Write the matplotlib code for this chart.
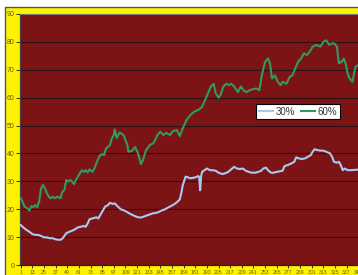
import matplotlib
matplotlib.use("Agg")
import matplotlib.pyplot as plt
from matplotlib.patches import Rectangle

# ---- data (category index, value) ----
green_idx = [1, 3, 5, 8, 10, 12, 14, 16, 18, 20, 22, 24, 26, 28, 30, 32, 34, 36, 39, 42,
             44, 46, 48, 50, 52, 54, 56, 58, 60, 62, 64, 66, 68, 70, 72, 75, 77, 79, 81, 83,
             85, 87, 89, 91, 93, 95, 97, 98, 100, 103, 107, 111, 112, 116, 119, 122, 125, 127, 130, 134,
             138, 142, 145, 148, 151, 155, 158, 162, 165, 168, 172, 176, 180, 184, 188, 191, 194, 197, 200, 202,
             205, 207, 210, 213, 216, 218, 221, 225, 228, 231, 234, 237, 240, 244, 247, 250, 253, 256, 258, 260,
             263, 266, 269, 271, 275, 278, 281, 284, 287, 290, 293, 296, 299, 302, 306, 310, 313, 316, 319, 322,
             324, 327, 329, 332, 334, 336, 338, 340, 343, 346, 349]
green_val = [23.9, 22.7, 20.9, 20.3, 19.5, 21.1, 20.7, 21.5, 20.7, 22.7, 27.5, 28.7, 27.5, 25.7, 24.5, 23.9, 24.5, 23.9, 24.5, 23.9,
             26.3, 26.9, 30.5, 29.9, 30.5, 29.9, 29.0, 30.5, 31.7, 32.9, 34.0, 33.4, 34.0, 33.2, 34.3, 33.4, 34.6, 36.4, 38.2, 39.4,
             39.8, 39.4, 41.8, 42.4, 43.0, 45.4, 46.6, 48.6, 45.5, 47.5, 46.6, 43.0, 40.6, 41.0, 42.3, 40.0, 36.2, 37.6, 41.0, 43.0,
             43.7, 46.6, 47.8, 46.6, 47.4, 46.6, 48.0, 48.4, 46.2, 49.0, 52.0, 53.8, 55.0, 55.6, 56.7, 59.0, 61.5, 64.0, 64.9, 61.6,
             60.0, 61.0, 64.0, 65.0, 64.5, 65.0, 64.0, 62.0, 64.0, 62.5, 62.0, 62.7, 63.0, 63.3, 62.7, 68.7, 72.9, 74.0, 72.3, 66.9,
             68.0, 65.7, 64.5, 65.7, 65.0, 67.3, 68.0, 70.5, 72.9, 74.0, 75.9, 75.3, 76.5, 78.3, 78.9, 78.3, 80.0, 80.6, 78.9, 79.5,
             79.5, 78.3, 72.3, 72.9, 74.0, 72.3, 68.7, 66.9, 65.7, 71.0, 71.7]

blue_idx = [1, 3, 6, 10, 13, 16, 19, 22, 25, 28, 31, 34, 37, 41, 43, 45, 48, 51, 54, 57,
            60, 63, 66, 68, 70, 72, 75, 79, 81, 83, 85, 88, 91, 93, 96, 98, 101, 104, 108, 113,
            117, 121, 125, 129, 133, 137, 142, 146, 150, 154, 158, 162, 165, 167, 168, 171, 176, 181, 184, 185,
            186, 187, 188, 193, 196, 199, 202, 205, 209, 212, 215, 218, 221, 224, 227, 230, 233, 236, 239, 243,
            246, 249, 251, 254, 256, 259, 262, 265, 268, 271, 273, 276, 280, 283, 285, 288, 291, 294, 297, 300,
            302, 304, 307, 310, 313, 316, 320, 322, 324, 327, 329, 331, 333, 335, 338, 341, 349]
blue_val = [14.3, 13.7, 12.8, 11.9, 11.1, 10.8, 10.8, 10.4, 9.9, 9.9, 9.6, 9.6, 9.2, 9.0, 9.2, 9.9, 11.4, 11.9, 12.3, 12.8,
            13.5, 13.7, 14.0, 13.7, 14.9, 16.4, 16.7, 17.1, 16.7, 17.9, 19.1, 20.9, 21.5, 22.3, 21.9, 22.1, 21.0, 20.0, 19.5, 18.5,
            17.8, 17.2, 17.0, 17.5, 18.0, 18.5, 18.8, 19.5, 20.0, 20.8, 21.5, 22.5, 23.5, 26.5, 28.5, 31.7, 31.1, 31.4, 31.9, 31.5,
            26.8, 31.8, 33.4, 34.6, 34.0, 34.0, 33.8, 33.1, 32.6, 32.9, 33.4, 34.3, 35.2, 34.6, 34.4, 34.6, 33.8, 33.4, 33.1, 33.1,
            33.4, 33.8, 34.6, 34.9, 34.0, 33.1, 33.1, 33.4, 33.6, 33.8, 35.5, 35.8, 36.4, 37.0, 38.6, 38.2, 38.0, 38.2, 38.8, 39.4,
            40.6, 41.5, 41.2, 41.0, 41.0, 40.6, 40.0, 38.8, 37.0, 36.7, 37.0, 35.8, 34.0, 34.6, 34.0, 34.0, 34.2]

series_names = ["30%", "60%"]
x_tick_labels = [str(v) for v in range(1, 350, 12)]
y_ticks = list(range(0, 91, 10))

# ---- styling ----
W, H = 358, 275
fig = plt.figure(figsize=(W / 100, H / 100), dpi=100)
fig.patch.set_facecolor("white")

# yellow chart area with grey border
bg = Rectangle((5 / W, -0.05), 1.2, (H - 7) / H + 0.05,
               transform=fig.transFigure, facecolor="#FFF200",
               edgecolor="#555555", linewidth=1.0, zorder=-10)
fig.add_artist(bg)

ax_left = 19.73 / W
ax_w = 360 * 0.97 / W
ax_bottom = 10 / H
ax_h = (265 - 14) / H
ax = fig.add_axes([ax_left, ax_bottom, ax_w, ax_h])
ax.set_zorder(5)
ax.set_facecolor("#7C1416")

ax.plot(blue_idx, blue_val, color="#A6CAF0", lw=1.5, label=series_names[0], zorder=3)
ax.plot(green_idx, green_val, color="#2F9A62", lw=1.5, label=series_names[1], zorder=3)

ax.set_xlim(0, 360)
ax.set_ylim(0, 90)
ax.set_yticks(y_ticks)
ax.set_xticks([int(v) for v in x_tick_labels])
ax.set_xticklabels(x_tick_labels)

lab_col = "#5E5E00"
ax.tick_params(axis="y", direction="out", length=3, width=0.7, color="#333333",
               labelsize=5, labelcolor=lab_col, pad=1)
ax.tick_params(axis="x", direction="out", length=2, width=0.7, color="#333333",
               labelsize=3.7, labelcolor=lab_col, pad=1.5)
for lab in ax.get_xticklabels() + ax.get_yticklabels():
    lab.set_fontfamily("Liberation Sans")

ax.grid(axis="y", color="#2A1212", lw=0.8, zorder=1)
ax.set_axisbelow(True)
for s in ["top", "right"]:
    ax.spines[s].set_color("#777777")
    ax.spines[s].set_linewidth(0.8)
ax.spines["left"].set_color("#444444")
ax.spines["bottom"].set_color("#222222")
ax.spines["left"].set_linewidth(0.9)
ax.spines["bottom"].set_linewidth(0.9)

leg = ax.legend(loc="upper left", bbox_to_anchor=(0.677, 0.641), ncol=2,
                frameon=True, fancybox=False, handlelength=1.5,
                handletextpad=0.25, columnspacing=0.6, borderpad=0.25,
                borderaxespad=0, prop={"family": "Liberation Sans", "size": 7})
leg.get_frame().set_edgecolor("black")
leg.get_frame().set_linewidth(0.8)
leg.get_frame().set_facecolor("white")
leg.get_frame().set_alpha(1)
for t in leg.get_texts():
    t.set_color("#333333")

fig.savefig("out.png", dpi=100, facecolor=fig.get_facecolor())
